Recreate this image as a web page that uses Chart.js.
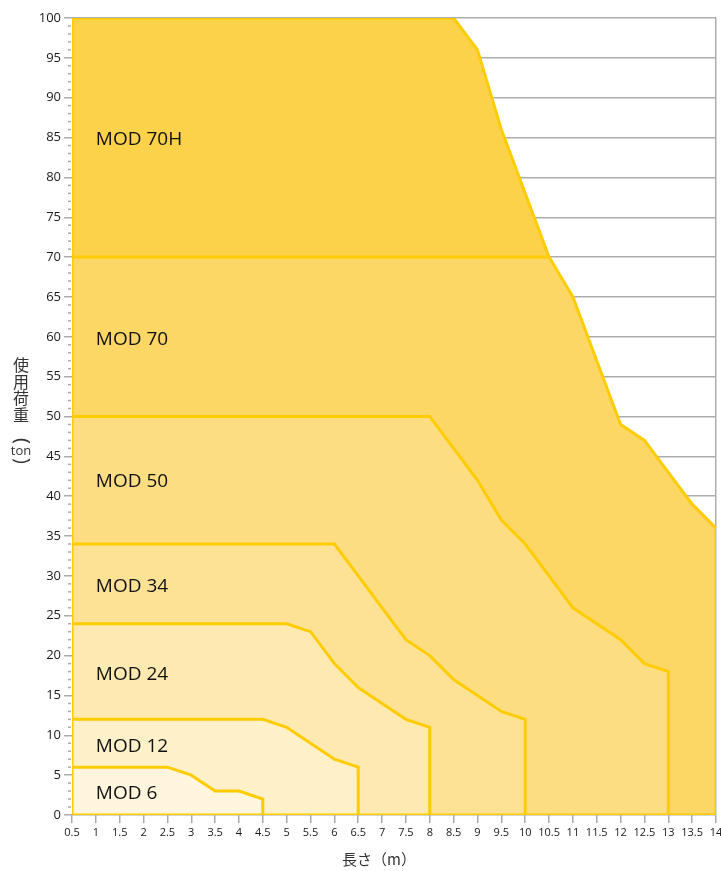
<!DOCTYPE html>
<html lang="ja">
<head>
<meta charset="utf-8">
<title>使用荷重</title>
<script src="https://cdn.jsdelivr.net/npm/chart.js@4.4.0/dist/chart.umd.min.js"></script>
<style>
    html, body { margin: 0; padding: 0; background: #fff; }
    #wrap { width: 721px; height: 871px; position: relative; }
</style>
</head>
<body>
<div id="wrap"><canvas id="chart"></canvas></div>
<script>
// 各モデルの外形（長さ m / 使用荷重 ton）
const mod6Len   = [0.5, 0.5, 2.5, 3, 3.5, 4, 4.5, 4.5];
const mod6Load  = [0, 6, 6, 5, 3, 3, 2, 0];
const mod12Len  = [0.5, 0.5, 4.5, 5, 5.5, 6, 6.5, 6.5];
const mod12Load = [0, 12, 12, 11, 9, 7, 6, 0];
const mod24Len  = [0.5, 0.5, 5, 5.5, 6, 6.5, 7, 7.5, 8, 8];
const mod24Load = [0, 24, 24, 23, 19, 16, 14, 12, 11, 0];
const mod34Len  = [0.5, 0.5, 6, 6.5, 7, 7.5, 8, 8.5, 9, 9.5, 10, 10];
const mod34Load = [0, 34, 34, 30, 26, 22, 20, 17, 15, 13, 12, 0];
const mod50Len  = [0.5, 0.5, 8, 8.5, 9, 9.5, 10, 10.5, 11, 11.5, 12, 12.5, 13, 13];
const mod50Load = [0, 50, 50, 46, 42, 37, 34, 30, 26, 24, 22, 19, 18, 0];
const mod70Len  = [0.5, 0.5, 10.5, 11, 11.5, 12, 12.5, 13, 13.5, 14, 14];
const mod70Load = [0, 70, 70, 65, 57, 49, 47, 43, 39, 36, 0];
const mod70hLen  = [0.5, 0.5, 8.5, 9, 9.5, 10, 10.5];
const mod70hLoad = [70, 100, 100, 96, 86, 78, 70];

const modNames = ['MOD 6', 'MOD 12', 'MOD 24', 'MOD 34', 'MOD 50', 'MOD 70', 'MOD 70H'];

// 軸
const lenMin = 0.5, lenMax = 14, lenStep = 0.5;
const loadMin = 0, loadMax = 100, loadStep = 5;
const xTitle = '長さ（m）';
const yTitleChars = ['使', '用', '荷', '重'];
const yTitleUnit = 'ton';

const lineColor = '#ffcc00';
const gridColor = '#a9adb0';
const fillColors = ['#fff6dd', '#fef0c8', '#feeab0', '#fde296', '#fddd81', '#fcd765', '#fcd24b'];

function toPoints(xs, ys) {
    return xs.map((x, i) => ({ x: x, y: ys[i] }));
}

const series = [
    [mod6Len, mod6Load], [mod12Len, mod12Load], [mod24Len, mod24Load],
    [mod34Len, mod34Load], [mod50Len, mod50Load], [mod70Len, mod70Load],
    [mod70hLen, mod70hLoad]
];

const datasets = [{
    // 下辺の黄色い線
    label: 'base',
    data: [{ x: lenMin, y: loadMin }, { x: lenMax, y: loadMin }],
    borderColor: lineColor,
    borderWidth: 3,
    pointRadius: 0,
    fill: false
}];
series.forEach((s, i) => {
    datasets.push({
        label: modNames[i],
        data: toPoints(s[0], s[1]),
        borderColor: lineColor,
        backgroundColor: fillColors[i],
        borderWidth: 3,
        borderJoinStyle: 'miter',
        pointRadius: 0,
        tension: 0,
        fill: i === 6 ? { value: 70 } : 'origin'
    });
});

// ラベル位置（長さ, 荷重）
const labelAtLen = 1.0;
const labelAtLoad = [2.9, 8.8, 17.8, 28.9, 42, 59.8, 84.9];

const regionLabels = {
    id: 'regionLabels',
    afterDatasetsDraw(chart) {
        const ctx = chart.ctx;
        const xs = chart.scales.x, ys = chart.scales.y;
        ctx.save();
        ctx.font = '19px "Open Sans"';
        ctx.fillStyle = '#111';
        ctx.textAlign = 'left';
        ctx.textBaseline = 'alphabetic';
        modNames.forEach((name, i) => {
            ctx.fillText(name, xs.getPixelForValue(labelAtLen), ys.getPixelForValue(labelAtLoad[i]) + 7);
        });
        ctx.restore();
    }
};

const axisExtras = {
    id: 'axisExtras',
    afterDraw(chart) {
        const ctx = chart.ctx;
        const ys = chart.scales.y;
        ctx.save();
        // 補助目盛り
        ctx.fillStyle = gridColor;
        for (let v = loadMin; v <= loadMax; v++) {
            if (v % loadStep === 0) continue;
            const py = ys.getPixelForValue(v);
            ctx.fillRect(ys.right - 4, py - 0.75, 3, 1.5);
        }
        // 軸タイトル
        ctx.fillStyle = '#333';
        ctx.font = '15px "Noto Sans CJK JP"';
        ctx.textAlign = 'left';
        ctx.textBaseline = 'middle';
        ctx.fillText(xTitle, 342, 859);

        ctx.textAlign = 'center';
        ctx.font = '16px "Noto Sans CJK JP"';
        yTitleChars.forEach((c, i) => {
            ctx.fillText(c, 21, 365 + i * 16.7);
        });
        // 縦書きの括弧
        ctx.font = '20px "Open Sans"';
        ctx.save();
        ctx.translate(22, 441);
        ctx.rotate(Math.PI / 2);
        ctx.fillText('(', 0, 0);
        ctx.restore();
        ctx.save();
        ctx.translate(22, 461);
        ctx.rotate(Math.PI / 2);
        ctx.fillText(')', 0, 0);
        ctx.restore();
        ctx.font = '13px "Open Sans"';
        ctx.fillText(yTitleUnit, 21, 451);
        ctx.restore();
    }
};

new Chart(document.getElementById('chart'), {
    type: 'line',
    data: { datasets: datasets },
    options: {
        responsive: true,
        maintainAspectRatio: false,
        animation: false,
        layout: { padding: { top: 18, right: 5, left: 0, bottom: 0 } },
        plugins: {
            legend: { display: false },
            tooltip: { enabled: false },
            title: { display: false }
        },
        scales: {
            x: {
                type: 'linear',
                min: lenMin,
                max: lenMax,
                border: { display: false },
                grid: {
                    color: ctx => (ctx.tick && ctx.tick.value === lenMax) ? gridColor : 'rgba(0,0,0,0)',
                    lineWidth: 1.5,
                    tickColor: gridColor,
                    tickLength: 8
                },
                ticks: {
                    stepSize: lenStep,
                    autoSkip: false,
                    maxRotation: 0,
                    padding: 3,
                    color: '#1a1a1a',
                    font: { family: 'Open Sans', size: 11 },
                    callback: value => String(Number(value))
                },
                afterFit(scale) {
                    scale.height = 56;
                    scale.paddingLeft = 0;
                    scale.paddingRight = 0;
                }
            },
            y: {
                type: 'linear',
                min: loadMin,
                max: loadMax,
                border: { display: false },
                grid: {
                    color: gridColor,
                    lineWidth: 1.5,
                    tickColor: gridColor,
                    tickLength: 8
                },
                ticks: {
                    stepSize: loadStep,
                    padding: 3,
                    color: '#1a1a1a',
                    font: { family: 'Open Sans', size: 13 }
                },
                afterFit(scale) {
                    scale.width = 72;
                    scale.paddingTop = 0;
                    scale.paddingBottom = 0;
                }
            }
        }
    },
    plugins: [regionLabels, axisExtras]
});
</script>
</body>
</html>
